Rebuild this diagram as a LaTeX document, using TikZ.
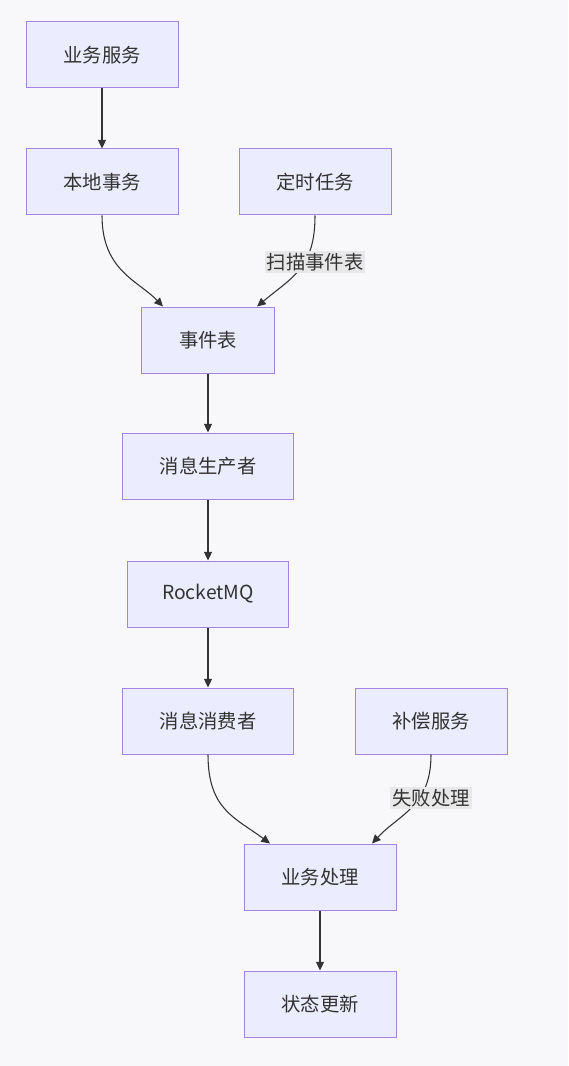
\documentclass[tikz,border=0pt]{standalone}
\usepackage{fontspec}
\setmainfont{Noto Sans CJK SC}
\usetikzlibrary{arrows.meta}
\definecolor{bgc}{RGB}{248,248,250}
\definecolor{boxfill}{RGB}{236,236,255}
\definecolor{boxdraw}{RGB}{147,112,219}
\definecolor{txt}{RGB}{51,51,51}
\definecolor{lblfill}{RGB}{232,232,232}
\tikzset{
  proc/.style={draw=boxdraw!85!white, fill=boxfill, line width=0.75pt, text=txt,
    font=\fontsize{14.5pt}{17pt}\selectfont, inner xsep=28pt, minimum height=49.5pt},
  conn/.style={draw=txt, line width=0.8pt, -{Triangle[length=6.5pt,width=6pt]}},
  elabel/.style={fill=lblfill, text=txt, font=\fontsize{14.5pt}{17pt}\selectfont, inner sep=1.5pt}
}
\begin{document}
\begin{tikzpicture}[x=0.75pt,y=-0.75pt]
\fill[bgc] (0,0) rectangle (568,1066);
\useasboundingbox (0,0) rectangle (568,1066);
\node[proc] (biz) at (102,55) {业务服务};
\node[proc] (local) at (102,182) {本地事务};
\node[proc] (timer) at (315,182) {定时任务};
\node[proc] (evt) at (208,340) {事件表};
\node[proc] (prod) at (208,466) {消息生产者};
\node[proc, inner xsep=26pt] (mq) at (208,594) {RocketMQ};
\node[proc] (cons) at (208,721) {消息消费者};
\node[proc] (comp) at (431,721) {补偿服务};
\node[proc] (proc) at (320,877) {业务处理};
\node[proc] (state) at (320,1004) {状态更新};
\draw[conn] (biz) -- (local);
\draw[conn] (local.south) .. controls ([yshift=-55*0.75pt]local.south) and ([xshift=-70*0.75pt,yshift=26*0.75pt]evt.north) .. ([xshift=-45*0.75pt]evt.north);
\draw[conn] (timer.south) .. controls ([yshift=-52*0.75pt]timer.south) and ([xshift=85*0.75pt,yshift=30*0.75pt]evt.north) .. ([xshift=49*0.75pt]evt.north);
\node[elabel] (l1) at (315,262) {扫描事件表};
\draw[conn] (evt) -- (prod);
\draw[conn] (prod) -- (mq);
\draw[conn] (mq) -- (cons);
\draw[conn] (cons.south) .. controls ([yshift=-55*0.75pt]cons.south) and ([xshift=-85*0.75pt,yshift=26*0.75pt]proc.north) .. ([xshift=-50*0.75pt]proc.north);
\draw[conn] (comp.south) .. controls ([yshift=-52*0.75pt]comp.south) and ([xshift=80*0.75pt,yshift=30*0.75pt]proc.north) .. ([xshift=52*0.75pt]proc.north);
\node[elabel] (l2) at (431,798) {失败处理};
\draw[conn] (proc) -- (state);
\end{tikzpicture}
\end{document}
